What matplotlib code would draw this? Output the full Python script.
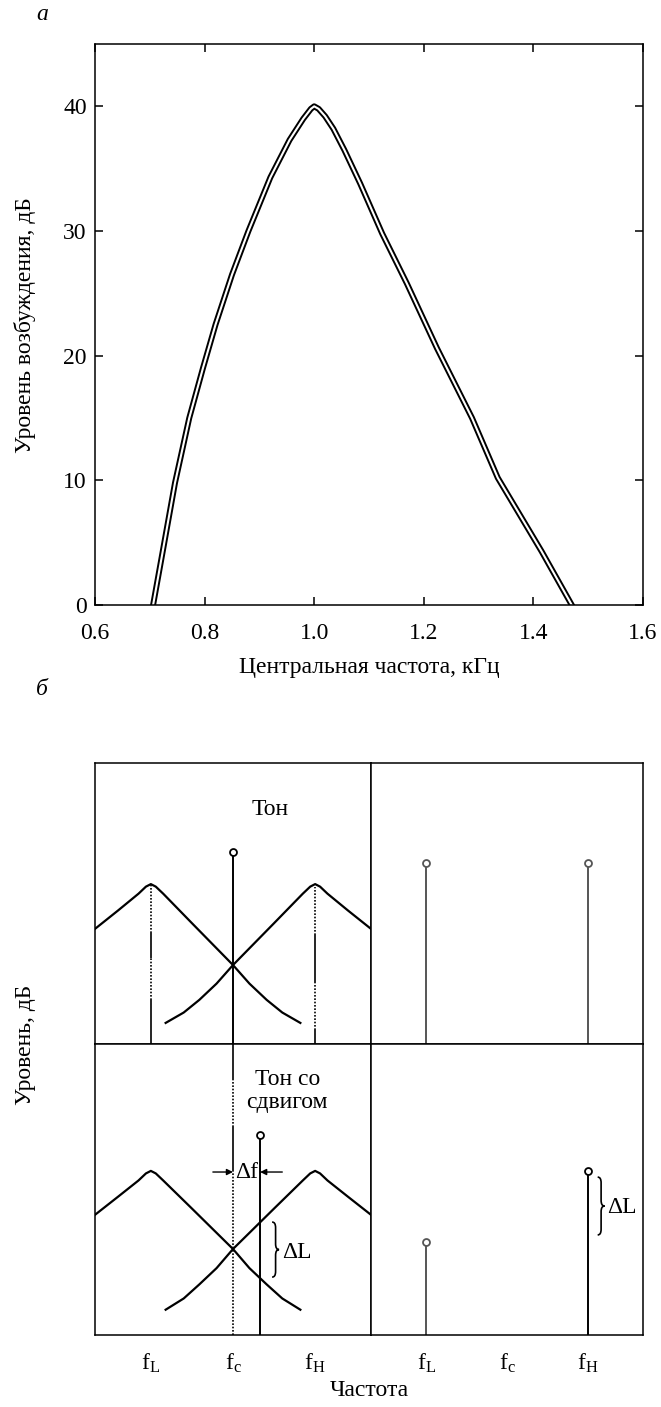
import numpy as np
import matplotlib
matplotlib.use("Agg")
import matplotlib.pyplot as plt
from matplotlib.path import Path
from matplotlib.patches import PathPatch

plt.rcParams["font.family"] = ["Liberation Serif", "DejaVu Serif"]
plt.rcParams["mathtext.fontset"] = "custom"
plt.rcParams["mathtext.rm"] = "Liberation Serif"
plt.rcParams["mathtext.it"] = "Liberation Serif:italic"

W, H = 661, 1407
FS = 17

# --- panel a: excitation pattern (kHz, dB) ---
freq_rise = [0.706, 0.724, 0.746, 0.772, 0.797, 0.820, 0.850, 0.880, 0.920,
             0.955, 0.980, 0.994, 1.0]
level_rise = [0.0, 4.4, 9.8, 15.0, 19.0, 22.5, 26.5, 30.0, 34.3,
              37.3, 39.0, 39.8, 40.0]
freq_fall = [1.0, 1.008, 1.020, 1.035, 1.055, 1.084, 1.124, 1.169, 1.224,
             1.288, 1.335, 1.415, 1.470]
level_fall = [40.0, 39.8, 39.2, 38.2, 36.5, 33.8, 29.8, 25.8, 20.6,
              15.0, 10.2, 4.3, 0.0]
xticks_a = [0.6, 0.8, 1.0, 1.2, 1.4, 1.6]
yticks_a = [0, 10, 20, 30, 40]

# --- panel b: schematic filters and tones ---
# filter shape, offset from its centre frequency (fL = -1, fc = 0, fH = 1)
filt_dx = [-0.683, -0.4, -0.15, -0.06, 0.0, 0.06, 0.15, 0.5, 1.0, 1.2, 1.41,
           1.6, 1.82]
filt_top = [0.409, 0.475, 0.535, 0.560, 0.569, 0.560, 0.535, 0.43, 0.281,
            0.215, 0.157, 0.112, 0.075]
filt_bot = [0.427, 0.492, 0.550, 0.575, 0.584, 0.575, 0.550, 0.45, 0.306,
            0.238, 0.180, 0.130, 0.090]

tone_x, tone_level = 0.0, 0.683
shift_x, shift_level = 0.33, 0.712
out_x = [-1.0, 1.0]
out_top = [0.644, 0.644]
out_bot = [0.331, 0.584]
freq_labels = [r"$\mathrm{f_L}$", r"$\mathrm{f_c}$", r"$\mathrm{f_H}$"]


def box(l, t, r, b):
    return [l / W, 1 - b / H, (r - l) / W, (b - t) / H]


def brace(ax, x, y0, y1, w, r):
    ym = (y0 + y1) / 2
    xm = x + w / 2
    verts = [(x, y1), (xm, y1), (xm, y1 - r),
             (xm, ym + r), (xm, ym), (x + w, ym),
             (xm, ym), (xm, ym - r),
             (xm, y0 + r), (xm, y0), (x, y0)]
    codes = [Path.MOVETO, Path.CURVE3, Path.CURVE3,
             Path.LINETO, Path.CURVE3, Path.CURVE3,
             Path.CURVE3, Path.CURVE3,
             Path.LINETO, Path.CURVE3, Path.CURVE3]
    ax.add_patch(PathPatch(Path(verts, codes), fill=False, lw=1.2, color="black"))


def broken_line(ax, x, parts):
    for y0, y1, ls in parts:
        style = "-" if ls == "-" else (0, (1.0, 1.0))
        ax.plot([x, x], [y0, y1], color="black", lw=1.2, linestyle=style,
                solid_capstyle="butt")


def stem(ax, x, h, color="black"):
    ax.plot([x, x], [0, h], color=color, lw=1.4, solid_capstyle="butt")
    ax.plot([x], [h], "o", ms=5, mfc="white", mec=color, mew=1.3, zorder=5,
            clip_on=False)


fig = plt.figure(figsize=(W / 100, H / 100), dpi=100)

# panel a
ax = fig.add_axes(box(95, 44, 643, 605))
f = np.concatenate([freq_rise, freq_fall[1:]])
L = np.concatenate([level_rise, level_fall[1:]])
ax.plot(f, L, color="black", lw=4.3, solid_joinstyle="round")
ax.plot(f, L, color="white", lw=1.5, solid_joinstyle="round")
ax.set_xlim(0.6, 1.6)
ax.set_ylim(0, 45)
ax.set_xticks(xticks_a)
ax.set_xticklabels(["%.1f" % v for v in xticks_a])
ax.set_yticks(yticks_a)
ax.tick_params(direction="in", length=6, width=1.1, top=True, right=True,
               labelsize=FS, pad=6)
ax.tick_params(axis="x", pad=13)
for s in ax.spines.values():
    s.set_linewidth(1.1)
fig.text(25 / W, 1 - 325 / H, "Уровень возбуждения, дБ", rotation=90,
         ha="center", va="center", fontsize=FS)
fig.text(369 / W, 1 - 668 / H, "Центральная частота, кГц",
         ha="center", va="center", fontsize=FS)
fig.text(42 / W, 1 - 14 / H, "а", style="italic", ha="center", va="center",
         fontsize=FS)

# panel b
fig.text(42 / W, 1 - 690 / H, "б", style="italic", ha="center", va="center",
         fontsize=FS)
tl = fig.add_axes(box(95, 763, 371, 1044))
tr = fig.add_axes(box(371, 763, 643, 1044))
bl = fig.add_axes(box(95, 1044, 371, 1335))
br = fig.add_axes(box(371, 1044, 643, 1335))
for a, top in [(tl, 1.0), (tr, 1.0), (bl, 291 / 281), (br, 291 / 281)]:
    a.set_xlim(-1.68, 1.68)
    a.set_ylim(0, top)
    a.set_xticks([])
    a.set_yticks([])
    for s in a.spines.values():
        s.set_linewidth(1.1)

dx = np.array(filt_dx)
for a, fy in [(tl, filt_top), (bl, filt_bot)]:
    a.plot(-1 + dx, fy, color="black", lw=1.6, solid_joinstyle="round")
    a.plot(1 - dx, fy, color="black", lw=1.6, solid_joinstyle="round")

# guide lines under the filter peaks and at fc
broken_line(tl, -1, [(0, 0.157, "-"), (0.157, 0.306, ":"),
                     (0.306, 0.395, "-"), (0.395, 0.569, ":")])
broken_line(tl, 1, [(0, 0.05, "-"), (0.05, 0.221, ":"),
                    (0.221, 0.388, "-"), (0.388, 0.559, ":")])
broken_line(bl, 0, [(0, 0.584, ":"), (0.584, 0.740, "-"),
                    (0.740, 0.907, ":"), (0.907, 1.036, "-")])

stem(tl, tone_x, tone_level)
stem(bl, shift_x, shift_level)
for x, h in zip(out_x, out_top):
    stem(tr, x, h, color="#555555")
stem(br, out_x[0], out_bot[0], color="#555555")
stem(br, out_x[1], out_bot[1], color="black")

tl.text(0.45, 0.833, "Тон", ha="center", va="center", fontsize=FS)
bl.text(0.66, 0.868, "Тон со\nсдвигом", ha="center", va="center",
        fontsize=FS, linespacing=1.1)

# delta f arrows
arrow = dict(arrowstyle="-|>", color="black", lw=1.0, mutation_scale=9,
             shrinkA=0, shrinkB=0)
bl.annotate("", xy=(tone_x, 0.58), xytext=(-0.245, 0.58), arrowprops=arrow)
bl.annotate("", xy=(shift_x, 0.58), xytext=(0.6, 0.58), arrowprops=arrow)
bl.text(0.16, 0.58, "Δf", ha="center", va="center", fontsize=FS)

brace(bl, 0.476, 0.206, 0.402, 0.085, 0.02)
bl.text(0.60, 0.292, "ΔL", ha="left", va="center", fontsize=FS)
brace(br, 1.12, 0.356, 0.562, 0.085, 0.02)
br.text(1.235, 0.452, "ΔL", ha="left", va="center", fontsize=FS)

for a in (bl, br):
    a.set_xticks([-1, 0, 1])
    a.set_xticklabels(freq_labels)
    a.tick_params(axis="x", length=0, labelsize=FS, pad=12)
br.set_xticks([0], minor=True)
br.tick_params(axis="x", which="minor", direction="in", length=7, width=1.1)

fig.text(369 / W, 1 - 1390 / H, "Частота", ha="center", va="center",
         fontsize=FS)
fig.text(25 / W, 1 - 1045 / H, "Уровень, дБ", rotation=90, ha="center",
         va="center", fontsize=FS)

fig.savefig("out.png", dpi=100)
